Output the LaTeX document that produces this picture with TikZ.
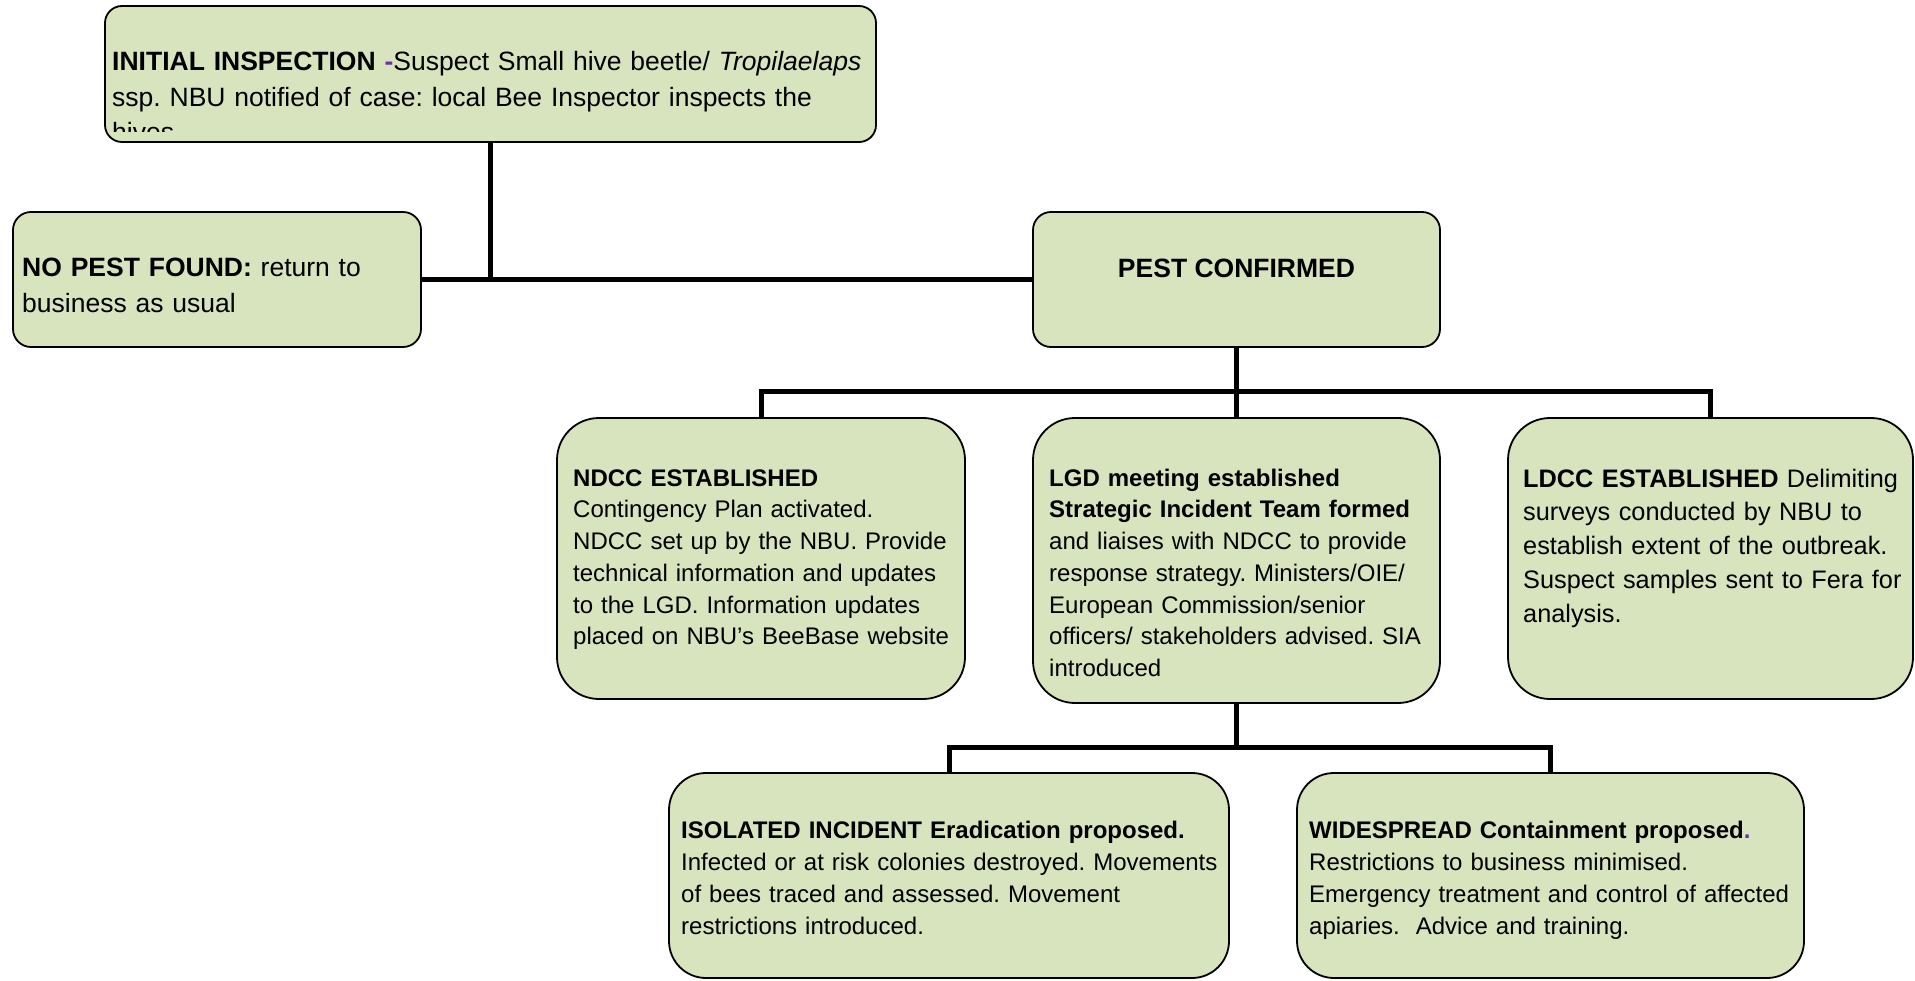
\documentclass[tikz,border=0pt]{standalone}
\usepackage{fontspec}
\setmainfont{Liberation Sans}
\frenchspacing
\definecolor{boxfill}{HTML}{D7E4BD}
\definecolor{purp}{HTML}{7030A0}
\tikzset{
  box/.style={draw=black, fill=boxfill, line width=1.8pt, rectangle, inner sep=0pt},
  conn/.style={draw=black, line width=5pt, line join=miter},
  txt/.style={inner sep=0pt, anchor=base west, text width=880pt, align=left},
  bigfont/.style={font=\fontsize{26.5}{35.6}\selectfont},
  midfont/.style={font=\fontsize{25.3}{33.9}\selectfont},
  smallfont/.style={font=\fontsize{24}{31.75}\selectfont},
  botfont/.style={font=\fontsize{24}{32.1}\selectfont}
}
\begin{document}
\begin{tikzpicture}[x=1pt,y=-1pt]
\useasboundingbox (0,0) rectangle (1915,981);
% boxes
\node[box, minimum width=771, minimum height=136, rounded corners=17] (init) at (490.5,74) {};
\node[box, minimum width=408, minimum height=135, rounded corners=18] (nopest) at (217,279.5) {};
\node[box, minimum width=407, minimum height=135, rounded corners=18] (pest) at (1236.5,279.5) {};
\node[box, minimum width=408, minimum height=281, rounded corners=42] (ndcc) at (761,558.5) {};
\node[box, minimum width=407, minimum height=285, rounded corners=42] (lgd) at (1236.5,560.5) {};
\node[box, minimum width=405, minimum height=281, rounded corners=42] (ldcc) at (1710.5,558.5) {};
\node[box, minimum width=560, minimum height=205, rounded corners=37] (iso) at (949,875.5) {};
\node[box, minimum width=507, minimum height=205, rounded corners=37] (wide) at (1550.5,875.5) {};
% connectors
\coordinate (bus1) at (1236.5,392);
\coordinate (bus2) at (1236.5,747);
\draw[conn] (init.south) -- (init.south |- nopest.east);
\draw[conn] (nopest.east) -- (pest.west);
\draw[conn] (pest.south) -- (lgd.north);
\draw[conn] (ndcc.north) |- (bus1) -| (ldcc.north);
\draw[conn] (lgd.south) -- (bus2);
\draw[conn] (iso.north) |- (bus2) -| (wide.north);
% texts
\begin{scope}
\clip (106,7) rectangle (875,132);
\node[txt, bigfont] (tinit) at (112,70.5) {\textbf{INITIAL INSPECTION }\textcolor{purp}{\textbf{-}}Suspect Small hive beetle/ \textit{Tropilaelaps}\\ssp. NBU notified of case: local Bee Inspector inspects the\\hives};
\end{scope}
\node[txt, bigfont] (tnopest) at (22,277) {\textbf{NO PEST FOUND:} return to\\business as usual};
\node[inner sep=0pt, anchor=base, bigfont] (tpest) at (1236.5,278) {\textbf{PEST CONFIRMED}};
\node[txt, smallfont] (tndcc) at (573,486) {\textbf{NDCC ESTABLISHED}\\Contingency Plan activated.\\NDCC set up by the NBU. Provide\\technical information and updates\\to the LGD. Information updates\\placed on NBU’s BeeBase website};
\node[txt, smallfont] (tlgd) at (1049,486) {\textbf{LGD meeting established}\\\textbf{Strategic Incident Team formed}\\and liaises with NDCC to provide\\response strategy. Ministers/OIE/\\European Commission/senior\\officers/ stakeholders advised. SIA\\introduced};
\node[txt, midfont] (tldcc) at (1523,487) {\textbf{LDCC ESTABLISHED} Delimiting\\surveys conducted by NBU to\\establish extent of the outbreak.\\Suspect samples sent to Fera for\\analysis.};
\node[txt, botfont] (tiso) at (681,838) {\textbf{ISOLATED INCIDENT Eradication proposed.}\\Infected or at risk colonies destroyed. Movements\\of bees traced and assessed. Movement\\restrictions introduced.};
\node[txt, botfont] (twide) at (1309,838) {\textbf{WIDESPREAD Containment proposed}\textcolor{purp}{\textbf{.}}\\Restrictions to business minimised.\\Emergency treatment and control of affected\\apiaries.\ \ Advice and training.};
\end{tikzpicture}
\end{document}
